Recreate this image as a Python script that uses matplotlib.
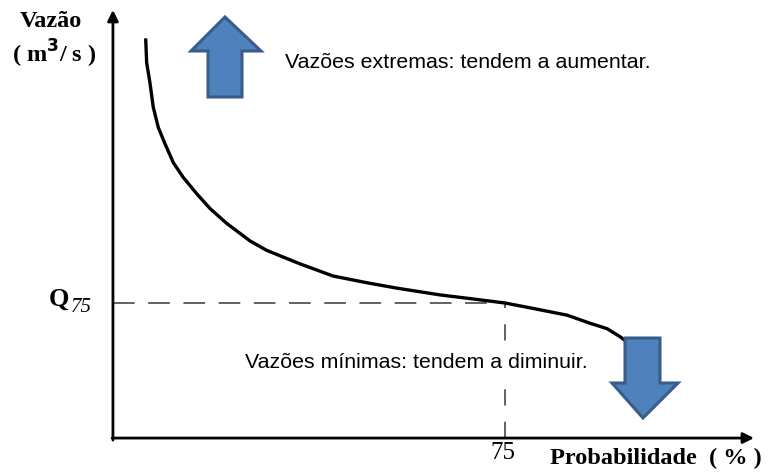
#!/usr/bin/env python3
"""Curva de permanência de vazões com indicação das tendências extremas."""
import matplotlib
matplotlib.use("Agg")
import matplotlib.pyplot as plt
from matplotlib.patches import Polygon
from matplotlib.transforms import Affine2D

W, H = 777, 476

# curva de permanência: probabilidade (%) x vazão (relativa a Q75)
prob = [6.26, 6.45, 7.08, 7.71, 8.67, 9.95, 11.54, 13.45, 16.01, 18.56,
        21.75, 26.21, 29.40, 35.78, 42.09, 48.59, 54.33, 62.56, 68.87,
        75.0, 80.36, 86.86, 91.26, 94.51, 97.00, 98.34]
vazao = [2.96, 2.78, 2.63, 2.45, 2.30, 2.18, 2.04, 1.93, 1.81, 1.70,
         1.59, 1.46, 1.39, 1.29, 1.20, 1.15, 1.11, 1.06, 1.03,
         1.00, 0.96, 0.91, 0.85, 0.81, 0.75, 0.71]
P75 = 75
Q75 = 1.0

SERIF = ["Liberation Serif", "DejaVu Serif"]
SANS = ["Liberation Sans", "DejaVu Sans"]
FILL = "#4F81BD"
EDGE = "#385D8A"

fig = plt.figure(figsize=(W / 100, H / 100), dpi=100)
ax = fig.add_axes([0, 0, 1, 1])
ax.set_xlim(-21.6, 127.0)
ax.set_ylim(-0.281, 3.244)
ax.axis("off")

# pixel frame (origin top-left) for the decorative block arrows
px = Affine2D().scale(1 / W, -1 / H).translate(0, 1) + fig.transFigure

# eixos com setas
arrow = dict(arrowstyle="-|>", color="black", lw=2.0, mutation_scale=16,
             shrinkA=0, shrinkB=0)
ax.annotate("", xy=(0, 3.17), xytext=(0, -0.015), arrowprops=arrow)
ax.annotate("", xy=(122.6, 0), xytext=(-0.15, 0), arrowprops=arrow)

# linhas de referência de Q75
ax.plot([0, P75], [Q75, Q75], color="#555555", lw=1.3, dashes=(12, 7.5))
ax.plot([P75, P75], [0, Q75], color="#555555", lw=1.3, dashes=(9, 9))

ax.plot(prob, vazao, color="black", lw=2.4, solid_capstyle="butt",
        solid_joinstyle="round", zorder=3)

# setas de tendência
up = [(225, 17), (261, 51), (242, 51), (242, 97), (208, 97), (208, 51), (191, 51)]
down = [(625, 338), (660, 338), (660, 383), (678, 383), (643, 418), (612, 383), (625, 383)]
for pts in (up, down):
    ax.add_patch(Polygon(pts, closed=True, transform=px, facecolor=FILL,
                         edgecolor=EDGE, lw=2.2, joinstyle="miter", zorder=4))

# rótulos
fig.text(20 / W, 1 - 27 / H, "Vazão", family=SERIF, weight="bold", fontsize=17.5)
fig.text(12 / W, 1 - 63 / H, "( m$^\\mathbf{3}$/ s )", family=SERIF, weight="bold",
         fontsize=17.5)
fig.text(49 / W, 1 - 306 / H, "Q", family=SERIF, weight="bold", fontsize=19)
fig.text(71 / W, 1 - 312 / H, "75", family=SERIF, style="italic", fontsize=15)
ax.text(P75 - 0.4, -0.111, "75", family=SERIF, fontsize=18, ha="center", va="center")
fig.text(550 / W, 1 - 464 / H, "Probabilidade  ( % )", family=SERIF,
         weight="bold", fontsize=17.5)

fig.text(285 / W, 1 - 62 / H, "Vazões extremas: tendem a aumentar.",
         family=SANS, fontsize=15.4, va="center")
# caixa branca: a linha tracejada de 75 % passa por trás do texto
fig.text(245 / W, 1 - 362 / H, "Vazões mínimas: tendem a diminuir.",
         family=SANS, fontsize=15.4, va="center", zorder=5,
         bbox=dict(facecolor="white", edgecolor="none", pad=5))

fig.savefig("out.png", dpi=100, facecolor="white")
